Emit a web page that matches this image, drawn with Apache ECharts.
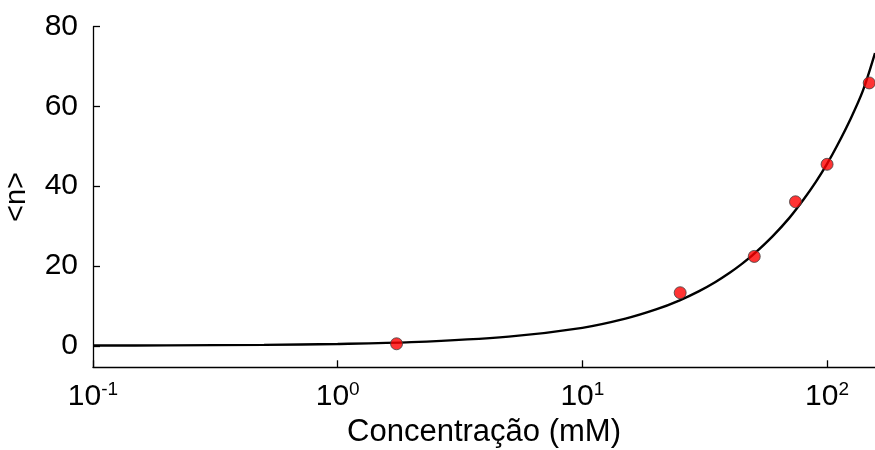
<!DOCTYPE html>
<html>
<head>
<meta charset="utf-8">
<script src="https://cdn.jsdelivr.net/npm/echarts@6/dist/echarts.min.js"></script>
<style>
  html, body { margin: 0; padding: 0; background: #fff; }
  #chart { width: 875px; height: 450px; }
</style>
</head>
<body>
<div id="chart"></div>
<script>
// Measured occupation number <n> versus concentration (mM)
const concMeasured = [1.74, 25.1, 50.4, 74.3, 100, 148.7];
const nMeasured = [0.5, 13.3, 22.4, 36.1, 45.5, 65.9];

// Fitted curve, sampled along the concentration axis
const concFit = [0.1, 0.2, 0.5, 1, 2, 5, 10, 15, 20, 25, 30, 35, 40, 45, 50, 60, 70, 80, 90, 100, 110, 125, 140, 157];
const nFit = [0.05, 0.1, 0.23, 0.46, 0.9, 2.3, 4.5, 6.8, 9.1, 11.4, 13.7, 16.0, 18.3, 20.6, 22.9, 27.5, 32.0, 36.6, 41.1, 45.6, 50.2, 57.0, 63.9, 73.4];

// Axis limits and tick labels
const xMin = 0.1, xMax = 157;
const yMin = -5.4, yMax = 80;
const yTicks = [0, 20, 40, 60, 80];

const font = 'Liberation Sans, Arial, Helvetica, sans-serif';

const chart = echarts.init(document.getElementById('chart'), null, { renderer: 'canvas' });

chart.setOption({
  animation: false,
  backgroundColor: '#ffffff',
  grid: { left: 93, right: 0, top: 26.7, bottom: 82.7, containLabel: false, outerBoundsMode: 'none' },
  xAxis: {
    type: 'log',
    logBase: 10,
    min: xMin,
    max: xMax,
    name: 'Concentração (mM)',
    nameLocation: 'middle',
    nameGap: 50,
    nameTextStyle: { fontFamily: font, fontSize: 31, color: '#000' },
    axisLine: { onZero: false, lineStyle: { color: '#000', width: 1.3 } },
    axisTick: { inside: true, length: 7, lineStyle: { color: '#000', width: 1.3 } },
    minorTick: { show: false },
    splitLine: { show: false },
    axisLabel: {
      margin: 13,
      showMaxLabel: false,
      formatter: function (v) {
        const e = Math.log10(v);
        const r = Math.round(e);
        if (Math.abs(e - r) > 1e-6) return '';
        return '{b|10}{s|' + r + '}';
      },
      rich: {
        b: { fontFamily: font, fontSize: 30, color: '#000', lineHeight: 32 },
        s: { fontFamily: font, fontSize: 19, color: '#000', lineHeight: 19, verticalAlign: 'top' }
      }
    }
  },
  yAxis: {
    type: 'value',
    min: yMin,
    max: yMax,
    splitNumber: 4,
    name: '<n>',
    nameLocation: 'middle',
    nameGap: 62,
    nameTextStyle: { fontFamily: font, fontSize: 29, color: '#000' },
    axisLine: { show: true, lineStyle: { color: '#000', width: 1.3 } },
    axisTick: { inside: true, length: 7, lineStyle: { color: '#000', width: 1.3 } },
    splitLine: { show: false },
    axisLabel: {
      margin: 15,
      fontFamily: font,
      fontSize: 30,
      color: '#000',
      showMinLabel: false,
      formatter: function (v) { return yTicks.indexOf(v) >= 0 ? String(v) : ''; }
    }
  },
  series: [
    {
      name: 'ajuste',
      type: 'line',
      data: concFit.map((c, i) => [c, nFit[i]]),
      showSymbol: false,
      smooth: 0.3,
      lineStyle: { color: '#000', width: 2.4 },
      z: 2
    },
    {
      name: 'medidas',
      type: 'scatter',
      data: concMeasured.map((c, i) => [c, nMeasured[i]]),
      symbol: 'circle',
      symbolSize: 12,
      itemStyle: { color: '#ff0000', borderColor: '#404040', borderWidth: 1 },
      z: 3
    }
  ]
});
</script>
</body>
</html>
